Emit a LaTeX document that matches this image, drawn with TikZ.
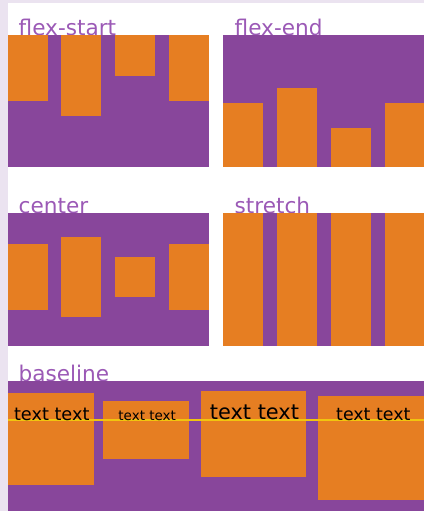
\documentclass[tikz,border=0pt]{standalone}
\usepackage{fontspec}
\newfontfamily\dv{DejaVu Sans}
\definecolor{lav}{RGB}{235,227,240}
\definecolor{panel}{RGB}{136,70,155}
\definecolor{box}{RGB}{230,126,34}
\definecolor{lbl}{RGB}{155,89,182}
\definecolor{gold}{RGB}{241,196,15}
\tikzset{
  panelbox/.style={fill=panel},
  item/.style={fill=box},
  lbltext/.style={anchor=base west,inner sep=0pt,text=lbl,font=\dv\fontsize{21.6}{25}\selectfont},
  itext/.style={anchor=base west,inner sep=0pt,text=black}
}
\begin{document}
\begin{tikzpicture}[x=1pt,y=-1pt]
\useasboundingbox (0,0) rectangle (424,511);
\fill[white] (0,0) rectangle (424,511);
\fill[lav] (0,0) rectangle (424,3);
\fill[lav] (0,0) rectangle (7.5,511);
% labels
\node[lbltext] (l1) at (18.5,35.5) {flex-start};
\node[lbltext] (l2) at (234.5,35.5) {flex-end};
\node[lbltext] (l3) at (18.5,213.5) {center};
\node[lbltext] (l4) at (234.5,213.5) {stretch};
\node[lbltext] (l5) at (18.5,381.5) {baseline};
% flex-start
\fill[panelbox] (8,35) rectangle (209,167);
\fill[item] (8,35) rectangle (48,101);
\fill[item] (61.3,35) rectangle (101.3,116);
\fill[item] (115.3,35) rectangle (155.3,76);
\fill[item] (169,35) rectangle (209,101);
% flex-end
\fill[panelbox] (223,35) rectangle (424,167);
\fill[item] (223,103) rectangle (263,167);
\fill[item] (276.7,88) rectangle (316.7,167);
\fill[item] (330.7,128) rectangle (370.7,167);
\fill[item] (384.7,103) rectangle (424,167);
% center
\fill[panelbox] (8,213) rectangle (209,345.5);
\fill[item] (8,244.3) rectangle (48,310);
\fill[item] (61.3,237.3) rectangle (101.3,317.3);
\fill[item] (115.3,257.3) rectangle (155.3,297.3);
\fill[item] (169,244.3) rectangle (209,310);
% stretch
\fill[panelbox] (223,213) rectangle (424,345.5);
\fill[item] (223,213) rectangle (263.3,345.5);
\fill[item] (276.7,213) rectangle (316.5,345.5);
\fill[item] (330.7,213) rectangle (370.7,345.5);
\fill[item] (385,213) rectangle (424,345.5);
% baseline
\fill[panelbox] (8,381) rectangle (424,511);
\fill[item] (8,392.5) rectangle (94.3,485);
\fill[item] (102.7,400.7) rectangle (189,459.3);
\fill[item] (201,391) rectangle (306,477);
\fill[item] (317.7,396) rectangle (424,500);
\draw[gold,line width=2pt] (8,420.3) -- (424,420.3);
\node[itext,font=\dv\fontsize{17.7}{20}\selectfont] (t1) at (13.8,420) {text text};
\node[itext,font=\dv\fontsize{13.5}{16}\selectfont] (t2) at (118.2,420) {text text};
\node[itext,font=\dv\fontsize{20.9}{24}\selectfont] (t3) at (209.7,419.5) {text text};
\node[itext,font=\dv\fontsize{17.4}{20}\selectfont] (t4) at (336,420) {text text};
\end{tikzpicture}
\end{document}
